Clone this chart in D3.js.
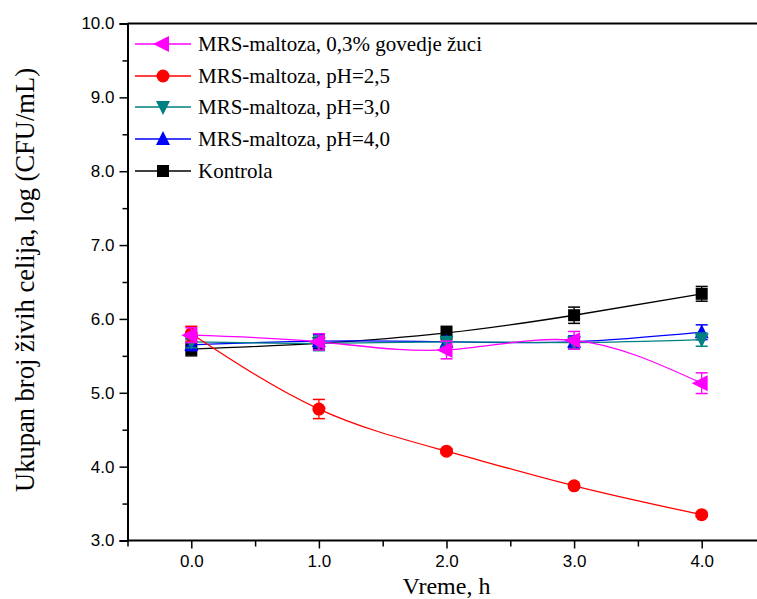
<!DOCTYPE html>
<html><head><meta charset="utf-8">
<script src="https://cdn.jsdelivr.net/npm/d3@7"></script>
<style>body{margin:0;background:#fff}svg{display:block}</style>
</head><body>
<svg id="c" width="757" height="599"></svg>
<script>
const times = [0, 1, 2, 3, 4];
const seriesNames = ["MRS-maltoza, 0,3% govedje žuci", "MRS-maltoza, pH=2,5", "MRS-maltoza, pH=3,0", "MRS-maltoza, pH=4,0", "Kontrola"];
const bileValues = [5.78, 5.69, 5.58, 5.71, 5.13];
const bileErrors = [0.10, 0.11, 0.12, 0.12, 0.14];
const ph25Values = [5.80, 4.78, 4.21, 3.74, 3.35];
const ph25Errors = [0.10, 0.13, 0.03, 0.03, 0.03];
const ph30Values = [5.69, 5.67, 5.69, 5.68, 5.72];
const ph30Errors = [0.08, 0.10, 0.06, 0.08, 0.09];
const ph40Values = [5.65, 5.70, 5.69, 5.69, 5.82];
const ph40Errors = [0.08, 0.09, 0.07, 0.08, 0.10];
const controlValues = [5.59, 5.67, 5.81, 6.05, 6.34];
const controlErrors = [0.09, 0.08, 0.09, 0.11, 0.10];
const xTickValues = [0, 1, 2, 3, 4];
const yTickValues = [3, 4, 5, 6, 7, 8, 9, 10];

const colors = ["#FF00FF", "#FF0000", "#008080", "#0000FF", "#000000"];
const symbols = ["triLeft", "circle", "triDown", "triUp", "square"];
const valuesList = [bileValues, ph25Values, ph30Values, ph40Values, controlValues];
const errorsList = [bileErrors, ph25Errors, ph30Errors, ph40Errors, controlErrors];

const svg = d3.select("#c");
const x = d3.scaleLinear().domain([-0.5, 4.5]).range([127.5, 765.5]);
const y = d3.scaleLinear().domain([3, 10]).range([540.5, 23.5]);
const serif = "Liberation Serif, Times New Roman, serif";

function drawMarker(g, type, cx, cy, color) {
  const s = 7;
  if (type === "circle") {
    g.append("circle").attr("cx", cx).attr("cy", cy).attr("r", 6.5).attr("fill", color);
  } else if (type === "square") {
    g.append("rect").attr("x", cx - 6).attr("y", cy - 6).attr("width", 12).attr("height", 12).attr("fill", color);
  } else {
    let pts;
    if (type === "triUp") pts = [[cx, cy - s - 1], [cx - s, cy + s - 1], [cx + s, cy + s - 1]];
    if (type === "triDown") pts = [[cx, cy + s + 1], [cx - s, cy - s + 1], [cx + s, cy - s + 1]];
    if (type === "triLeft") pts = [[cx - s - 3, cy], [cx + s - 1, cy - s - 1], [cx + s - 1, cy + s + 1]];
    g.append("polygon").attr("points", pts.map(p => p.join(",")).join(" ")).attr("fill", color);
  }
}

// top frame line
svg.append("line").attr("x1", x(-0.5)).attr("x2", 757).attr("y1", y(10)).attr("y2", y(10))
  .attr("stroke", "#000").attr("stroke-width", 2);

// x axis
const xAxis = d3.axisBottom(x).tickValues(xTickValues).tickFormat(d3.format(".1f")).tickSize(8).tickPadding(6);
const gx = svg.append("g").attr("transform", `translate(0,${y(3)})`).call(xAxis);
const xMinor = d3.axisBottom(x).tickValues([-0.5, 0.5, 1.5, 2.5, 3.5]).tickFormat("").tickSize(6);
svg.append("g").attr("transform", `translate(0,${y(3)})`).call(xMinor).select(".domain").remove();

// y axis
const yAxis = d3.axisLeft(y).tickValues(yTickValues).tickFormat(d3.format(".1f")).tickSize(8).tickPadding(5);
const gy = svg.append("g").attr("transform", `translate(${x(-0.5)},0)`).call(yAxis);
const yMinor = d3.axisLeft(y).tickValues([3.5, 4.5, 5.5, 6.5, 7.5, 8.5, 9.5]).tickFormat("").tickSize(5);
svg.append("g").attr("transform", `translate(${x(-0.5)},0)`).call(yMinor).select(".domain").remove();

svg.selectAll(".domain").attr("stroke", "#000").attr("stroke-width", 2);
svg.selectAll(".tick line").attr("stroke", "#000").attr("stroke-width", 1.5);
svg.selectAll(".tick text").attr("font-family", "Liberation Sans, Arial, sans-serif").attr("font-size", 17).attr("fill", "#000");
gx.select(".domain").attr("d", `M${x(-0.5)},0H757`);

// series, drawn in reverse legend order
const line = d3.line().x((d, i) => x(times[i])).y(d => y(d)).curve(d3.curveNatural);
for (let k = 4; k >= 0; k--) {
  const g = svg.append("g");
  g.append("path").datum(valuesList[k]).attr("d", line).attr("fill", "none")
    .attr("stroke", colors[k]).attr("stroke-width", 1.3);
  valuesList[k].forEach((v, i) => {
    const e = errorsList[k][i];
    const cx = x(times[i]);
    g.append("line").attr("x1", cx).attr("x2", cx).attr("y1", y(v - e)).attr("y2", y(v + e)).attr("stroke", colors[k]).attr("stroke-width", 1.3);
    [v - e, v + e].forEach(b => g.append("line").attr("x1", cx - 6).attr("x2", cx + 6).attr("y1", y(b)).attr("y2", y(b)).attr("stroke", colors[k]).attr("stroke-width", 1.5));
    drawMarker(g, symbols[k], cx, y(v), colors[k]);
  });
}

// legend
const legendY = [44, 76, 107, 139, 171];
seriesNames.forEach((name, k) => {
  const g = svg.append("g");
  g.append("line").attr("x1", 135).attr("x2", 191).attr("y1", legendY[k]).attr("y2", legendY[k]).attr("stroke", colors[k]).attr("stroke-width", 1.3);
  drawMarker(g, symbols[k], 163, legendY[k], colors[k]);
  g.append("text").attr("x", 198).attr("y", legendY[k] + 7).text(name)
    .attr("font-family", serif).attr("font-size", 21).attr("fill", "#000");
});

// axis titles
svg.append("text").attr("x", x(2)).attr("y", 593.5).attr("text-anchor", "middle").text("Vreme, h")
  .attr("font-family", serif).attr("font-size", 24).attr("fill", "#000");
svg.append("text").attr("transform", `translate(34,280) rotate(-90)`).attr("text-anchor", "middle")
  .text("Ukupan broj živih celija, log (CFU/mL)")
  .attr("font-family", serif).attr("font-size", 26.5).attr("fill", "#000");
</script>
</body></html>
